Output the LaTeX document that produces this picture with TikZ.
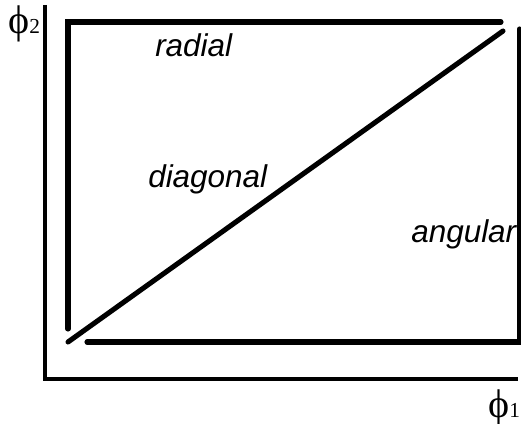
\documentclass[tikz,border=0pt]{standalone}
\usepackage{fontspec}
\usepackage{tikz}
\usetikzlibrary{positioning}
\newfontfamily\lblfont{Liberation Sans}
\newfontfamily\phifont{Liberation Serif}
\definecolor{PhInk}{HTML}{000000}
\tikzset{
  axisline/.style={PhInk,line width=2.4pt,line join=miter},
  region/.style={PhInk,line width=3.8pt,line cap=round,line join=miter},
  regionlabel/.style={text=PhInk,font=\lblfont\itshape\fontsize{23.6}{26}\selectfont,
                      anchor=base west,inner sep=0pt},
  axislabel/.style={text=PhInk,font=\phifont\fontsize{30}{32}\selectfont,
                    anchor=base west,inner sep=0pt},
}

\begin{document}
\begin{tikzpicture}[x=.75pt,y=-.75pt]
    \useasboundingbox (0,0) rectangle (521,424);

    % axes
    \draw[axisline] (45,5) -- (45,379) -- (518,379);
    \node[axislabel] (phitwo) at (8,34) {ϕ\fontsize{16}{18}\selectfont 2};
    \node[axislabel] (phione) at (488,417) {ϕ\fontsize{16}{18}\selectfont 1};

    % regions
    \draw[region] (68,329) -- (68,22) -- (501,22);
    \draw[region] (68,342) -- (503,31);
    \draw[region] (87,342) -- (519.5,342) -- (519.5,29);

    \node[regionlabel] (radial) at (155,57) {radial};
    \node[regionlabel] (diagonal) at (148,188) {diagonal};
    \node[regionlabel] (angular) at (411,242) {angular};
  \end{tikzpicture}
\end{document}
